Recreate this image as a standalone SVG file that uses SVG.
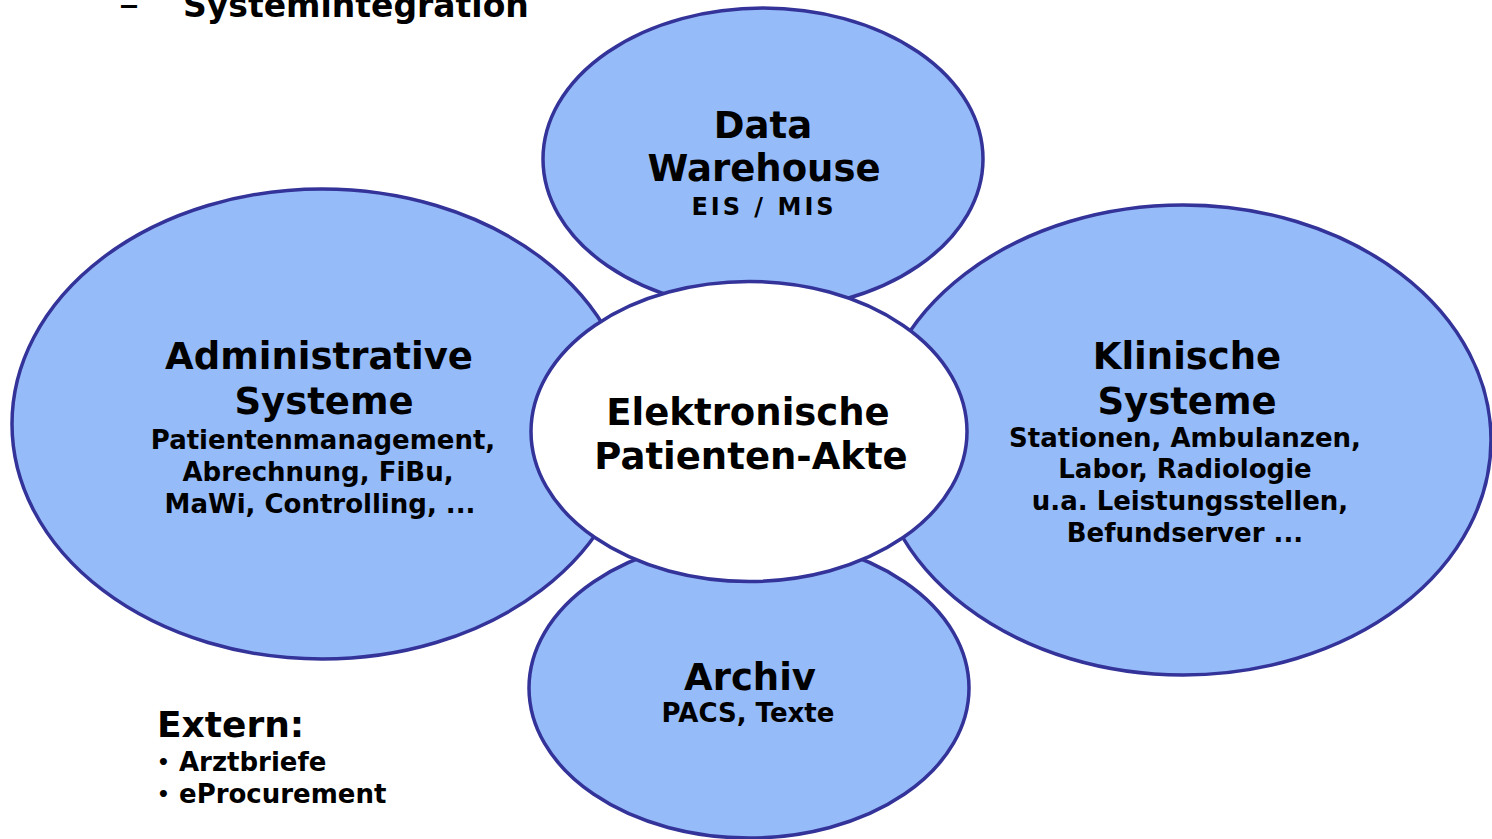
<svg xmlns="http://www.w3.org/2000/svg" width="1492" height="839" viewBox="0 0 1492 839">
<style>
.sys{fill:#95BBF9;stroke:#333399;stroke-width:3.5}
.core{fill:#FFFFFF;stroke:#333399;stroke-width:3.5}
text{font-family:"DejaVu Sans","Liberation Sans",sans-serif;font-weight:bold;fill:#000}
.h{font-size:37px;text-anchor:middle}
.s{font-size:26px;text-anchor:middle}
.l{font-size:26px}
.b{font-size:20px}
</style>
<rect width="1492" height="839" fill="#FFFFFF"/>
<g id="title">
<text x="119" y="18" style="font-size:40px;font-weight:normal">–</text>
<text x="183" y="17" style="font-size:33px">Systemintegration</text>
</g>
<g id="data-warehouse">
<ellipse class="sys" cx="763" cy="159" rx="220" ry="151"/>
<text class="h" x="763" y="138">Data</text>
<text class="h" x="764" y="181">Warehouse</text>
<text class="s" x="764" y="215" style="font-size:24px;letter-spacing:3px">EIS / MIS</text>
</g>
<g id="administrative">
<ellipse class="sys" cx="322" cy="424" rx="310" ry="235"/>
<text class="h" x="319" y="369">Administrative</text>
<text class="h" x="324" y="414">Systeme</text>
<text class="s" x="323" y="449">Patientenmanagement,</text>
<text class="s" x="318" y="481">Abrechnung, FiBu,</text>
<text class="s" x="320" y="513">MaWi, Controlling, ...</text>
</g>
<g id="klinische">
<ellipse class="sys" cx="1183" cy="440" rx="308" ry="235"/>
<text class="h" x="1187" y="369">Klinische</text>
<text class="h" x="1187" y="414">Systeme</text>
<text class="s" x="1185" y="447">Stationen, Ambulanzen,</text>
<text class="s" x="1185" y="478">Labor, Radiologie</text>
<text class="s" x="1190" y="510">u.a. Leistungsstellen,</text>
<text class="s" x="1185" y="542">Befundserver ...</text>
</g>
<g id="archiv">
<ellipse class="sys" cx="749" cy="688" rx="220" ry="150"/>
<text class="h" x="750" y="690">Archiv</text>
<text class="s" x="748" y="722">PACS, Texte</text>
</g>
<g id="epa">
<ellipse class="core" cx="749" cy="431.5" rx="218" ry="150"/>
<text class="h" x="748" y="425">Elektronische</text>
<text class="h" x="751" y="469">Patienten-Akte</text>
</g>
<g id="extern">
<text x="157" y="737" style="font-size:36px">Extern:</text>
<text class="b" x="157" y="769">•</text>
<text class="l" x="179" y="771">Arztbriefe</text>
<text class="b" x="157" y="801">•</text>
<text class="l" x="179" y="803">eProcurement</text>
</g>
<g id="connectors"/>
</svg>
